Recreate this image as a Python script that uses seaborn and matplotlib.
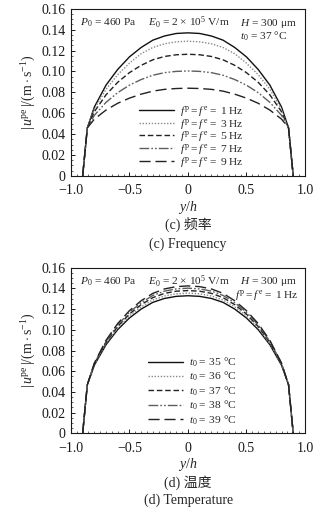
import numpy as np
import pandas as pd
import seaborn as sns
import matplotlib
matplotlib.use("Agg")
import matplotlib.pyplot as plt
from matplotlib.lines import Line2D
from matplotlib.ticker import MultipleLocator, FixedLocator

sns.set_theme(style="ticks")
plt.rcParams["font.family"] = ["Liberation Serif", "Noto Sans CJK SC", "DejaVu Sans"]
plt.rcParams["mathtext.fontset"] = "custom"
plt.rcParams["mathtext.rm"] = "Liberation Serif"
plt.rcParams["mathtext.it"] = "Liberation Serif:italic"
plt.rcParams["mathtext.bf"] = "Liberation Serif:bold"

# Normalised channel position y/h
y_pos = [-0.9, -0.86, -0.8, -0.7, -0.6, -0.5, -0.4, -0.3, -0.2, -0.1, 0.0,
         0.1, 0.2, 0.3, 0.4, 0.5, 0.6, 0.7, 0.8, 0.86, 0.9]

# (c) velocity amplitude for different frequencies, t0 = 37 C
freq_labels = ["1 Hz", "3 Hz", "5 Hz", "7 Hz", "9 Hz"]
u_f1 = [0, 0.046, 0.066, 0.087, 0.102, 0.114, 0.123, 0.130, 0.134, 0.1364, 0.137,
        0.1364, 0.134, 0.130, 0.123, 0.114, 0.102, 0.087, 0.066, 0.046, 0]
u_f3 = [0, 0.046, 0.064, 0.083, 0.097, 0.108, 0.117, 0.123, 0.1265, 0.1284, 0.129,
        0.1284, 0.1265, 0.123, 0.117, 0.108, 0.097, 0.083, 0.064, 0.046, 0]
u_f5 = [0, 0.046, 0.0615, 0.0777, 0.0897, 0.0989, 0.1059, 0.1112, 0.1144, 0.116, 0.1165,
        0.116, 0.1144, 0.1112, 0.1059, 0.0989, 0.0897, 0.0777, 0.0615, 0.046, 0]
u_f7 = [0, 0.046, 0.058, 0.0705, 0.0798, 0.0869, 0.0923, 0.0964, 0.0989, 0.1001, 0.1005,
        0.1001, 0.0989, 0.0964, 0.0923, 0.0869, 0.0798, 0.0705, 0.058, 0.046, 0]
u_f9 = [0, 0.046, 0.0544, 0.0631, 0.0696, 0.0745, 0.0783, 0.0812, 0.0829, 0.0837, 0.084,
        0.0837, 0.0829, 0.0812, 0.0783, 0.0745, 0.0696, 0.0631, 0.0544, 0.046, 0]

# (d) velocity amplitude for different inlet temperatures, f = 1 Hz
temp_labels = ["35", "36", "37", "38", "39"]
u_t35 = [0, 0.047, 0.0659, 0.0857, 0.1003, 0.1115, 0.1201, 0.1266, 0.1304, 0.1324, 0.133,
         0.1324, 0.1304, 0.1266, 0.1201, 0.1115, 0.1003, 0.0857, 0.0659, 0.047, 0]
u_t36 = [0, 0.047, 0.0665, 0.0868, 0.1019, 0.1134, 0.1222, 0.1289, 0.1328, 0.1349, 0.1355,
         0.1349, 0.1328, 0.1289, 0.1222, 0.1134, 0.1019, 0.0868, 0.0665, 0.047, 0]
u_t37 = [0, 0.047, 0.067, 0.088, 0.1034, 0.1153, 0.1244, 0.1312, 0.1353, 0.1374, 0.138,
         0.1374, 0.1353, 0.1312, 0.1244, 0.1153, 0.1034, 0.088, 0.067, 0.047, 0]
u_t38 = [0, 0.047, 0.0675, 0.089, 0.1048, 0.117, 0.1263, 0.1333, 0.1375, 0.1396, 0.1403,
         0.1396, 0.1375, 0.1333, 0.1263, 0.117, 0.1048, 0.089, 0.0675, 0.047, 0]
u_t39 = [0, 0.047, 0.068, 0.090, 0.1062, 0.1186, 0.1282, 0.1353, 0.1396, 0.1418, 0.1425,
         0.1418, 0.1396, 0.1353, 0.1282, 0.1186, 0.1062, 0.090, 0.068, 0.047, 0]

yticks = [0, 0.02, 0.04, 0.06, 0.08, 0.10, 0.12, 0.14, 0.16]
ytick_labels = ["0", "0.02", "0.04", "0.06", "0.08", "0.10", "0.12", "0.14", "0.16"]
xticks = [-1.0, -0.5, 0, 0.5, 1.0]
xtick_labels = ["\u22121.0", "\u22120.5", "0", "0.5", "1.0"]

colors = ["#111111", "#8a8a8a", "#222222", "#5e5e5e", "#222222"]
dash_styles = ["", (1, 1.2), (4, 2), (7, 1.5, 1.2, 1.5, 1.2, 1.5), (8, 3.5)]

def long_form(series, labels):
    frames = []
    for vals, lab in zip(series, labels):
        frames.append(pd.DataFrame({"y": y_pos, "u": vals, "case": lab}))
    return pd.concat(frames, ignore_index=True)

fig = plt.figure(figsize=(3.30, 5.19), dpi=100)
ax1 = fig.add_axes([0.215, 0.661, 0.709, 0.322])
ax2 = fig.add_axes([0.215, 0.165, 0.709, 0.319])

lw = 1.0
small = 8.2

def draw(ax, series, labels, legend_texts, legend_anchor, row_gap):
    df = long_form(series, labels)
    pal = dict(zip(labels, colors))
    dsh = dict(zip(labels, dash_styles))
    sns.lineplot(data=df, x="y", y="u", hue="case", style="case", palette=pal,
                 dashes=dsh, hue_order=labels, style_order=labels, sort=False,
                 linewidth=lw, legend=False, ax=ax, estimator=None)
    handles = []
    for c, d in zip(colors, dash_styles):
        h = Line2D([0], [0], color=c, lw=lw)
        if d != "":
            h.set_dashes(d)
        handles.append(h)
    ax.legend(handles, legend_texts, loc="upper left", bbox_to_anchor=legend_anchor,
              frameon=False, fontsize=small, handlelength=3.1, handletextpad=0.5,
              labelspacing=row_gap, borderpad=0, borderaxespad=0)
    ax.set_xlim(-1.0, 1.0)
    ax.set_ylim(0, 0.16)
    ax.xaxis.set_major_locator(FixedLocator(xticks))
    ax.set_xticklabels(xtick_labels)
    ax.yaxis.set_major_locator(FixedLocator(yticks))
    ax.set_yticklabels(ytick_labels)
    ax.xaxis.set_minor_locator(MultipleLocator(0.05))
    ax.yaxis.set_minor_locator(MultipleLocator(0.005))
    ax.tick_params(which="major", direction="in", length=3, width=0.7, labelsize=10,
                   colors="#1a1a1a")
    ax.tick_params(axis="x", which="major", pad=6)
    ax.tick_params(axis="y", which="major", pad=4)
    ax.tick_params(which="minor", direction="in", length=1.5, width=0.5)
    for sp in ax.spines.values():
        sp.set_linewidth(0.8)
        sp.set_color("#1a1a1a")
    ax.set_xlabel("$y/h$", fontsize=10, labelpad=1)
    ax.set_ylabel(r"$|\,u^{\rm pe}\,|/(\rm m\cdot s^{-1})$", fontsize=10, labelpad=2)

freq_texts = [r"$f^{\,\rm p} = f^{\,\rm e} = $" + f" {s}" for s in freq_labels]
temp_texts = [r"$t_0 = $" + f" {s} °C" for s in temp_labels]

draw(ax1, [u_f1, u_f3, u_f5, u_f7, u_f9], freq_labels, freq_texts, (0.29, 0.43), -0.12)
draw(ax2, [u_t35, u_t36, u_t37, u_t38, u_t39], temp_labels, temp_texts, (0.33, 0.47), 0.08)

for ax in (ax1, ax2):
    ax.text(0.04, 0.915, r"$P_0$ = 460 Pa", transform=ax.transAxes, fontsize=small, va="center")
    ax.text(0.33, 0.915, r"$E_0$ = 2 $\times$ 10$^5$ V/m", transform=ax.transAxes,
            fontsize=small, va="center")
    ax.text(0.722, 0.915, r"$H$ = 300 μm", transform=ax.transAxes, fontsize=small, va="center")
ax1.text(0.722, 0.835, r"$t_0$ = 37 °C", transform=ax1.transAxes, fontsize=small, va="center")
ax2.text(0.975, 0.835, r"$f^{\,\rm p} = f^{\,\rm e} = $ 1 Hz", transform=ax2.transAxes,
         fontsize=small, va="center", ha="right")

fig.text(0.57, 1 - 224 / 519, "(c) 频率", ha="center", va="center", fontsize=10)
fig.text(0.57, 1 - 244 / 519, "(c) Frequency", ha="center", va="center", fontsize=10)
fig.text(0.57, 1 - 483 / 519, "(d) 温度", ha="center", va="center", fontsize=10)
fig.text(0.57, 1 - 500 / 519, "(d) Temperature", ha="center", va="center", fontsize=10)

fig.savefig("out.png", dpi=100, facecolor="white")
